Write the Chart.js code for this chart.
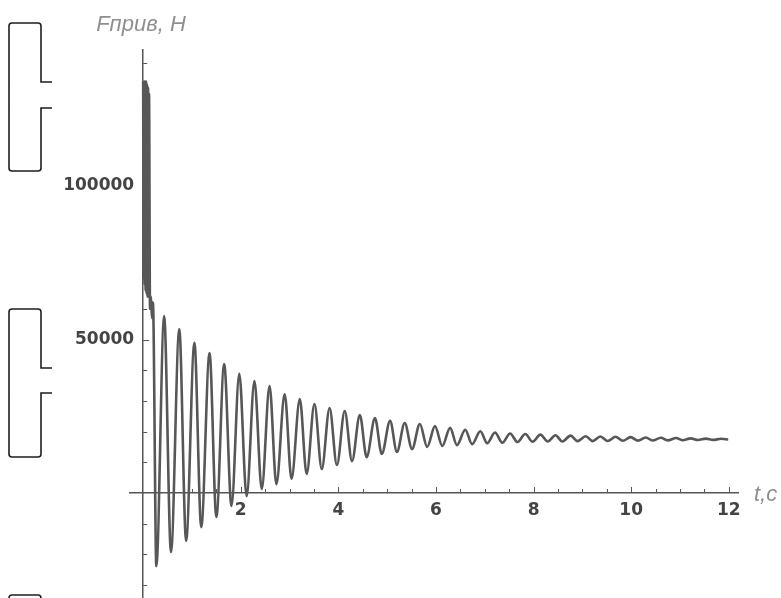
<!DOCTYPE html>
<html><head><meta charset="utf-8">
<script src="https://cdn.jsdelivr.net/npm/chart.js@4"></script>
<style>html,body{margin:0;padding:0;background:#fff}#wrap{position:relative;width:781px;height:598px}</style>
</head><body><div id="wrap"><canvas id="c" width="781" height="598"></canvas></div>
<script>
// time, s (extrema)
const tValues = [
  0, 0.01, 0.02, 0.03, 0.04, 0.05, 0.06, 0.07, 0.08, 0.09, 0.10, 0.11, 0.12, 0.14, 0.16, 0.18, 0.20,
  0.27, 0.43, 0.57, 0.74, 0.88, 1.05, 1.19, 1.36, 1.50, 1.66, 1.81, 1.97, 2.12, 2.28, 2.43, 2.59,
  2.73, 2.90, 3.04, 3.21, 3.35, 3.51, 3.66, 3.82, 3.97, 4.13, 4.28, 4.44, 4.58, 4.75, 4.89, 5.06,
  5.20, 5.36, 5.51, 5.67, 5.82, 5.98, 6.13, 6.29, 6.43, 6.60, 6.74, 6.91, 7.05, 7.21, 7.36, 7.52,
  7.67, 7.83, 7.98, 8.14, 8.29, 8.45, 8.59, 8.76, 8.90, 9.07, 9.21, 9.37, 9.52, 9.68, 9.83, 9.99,
  10.14, 10.30, 10.44, 10.61, 10.75, 10.92, 11.06, 11.22, 11.37, 11.53, 11.68, 11.84, 11.99
];
// force, N
const forceValues = [
  134000, 70000, 134000, 68000, 134000, 66000, 134000, 65000, 133000, 64000, 132000, 64000, 130000, 60000, 64000, 57000, 62000,
  -23800, 57600, -19200, 53400, -15600, 48900, -11100, 45600, -7800, 42000, -4200, 38800, -1000, 36500, 1300, 34800,
  2900, 32200, 4600, 30600, 6200, 29000, 7800, 27700, 9100, 26700, 10400, 25400, 11700, 24400, 12700, 23500,
  13400, 22800, 14300, 22500, 15000, 21800, 15300, 21200, 15600, 20600, 15900, 20100, 16200, 19700, 16400, 19400,
  16600, 19200, 16700, 19000, 16800, 18800, 16800, 18700, 16900, 18500, 16900, 18400, 16950, 18300, 17000, 18200,
  17050, 18100, 17100, 18000, 17150, 17900, 17200, 17800, 17250, 17700, 17300, 17650, 17450
];
const xTickLabels = [2, 4, 6, 8, 10, 12];
const xMinorTicks = [0.5, 1, 1.5, 2, 2.5, 3, 3.5, 4, 4.5, 5, 5.5, 6, 6.5, 7, 7.5, 8, 8.5, 9, 9.5, 10, 10.5, 11, 11.5, 12];
const yTickLabels = [50000, 100000];
const yMinorTicks = [-30000, -20000, -10000, 10000, 20000, 30000, 40000, 50000, 60000, 70000, 80000, 90000, 100000, 110000, 120000, 130000, 140000];
const yTitle = 'Fприв, Н';
const xTitle = 't,c';

const tickFont = 'bold 17px "DejaVu Sans", sans-serif';

const decor = {
  id: 'decor',
  afterDraw(chart) {
    const {ctx, scales: {x, y}} = chart;
    const x0 = x.getPixelForValue(0), y0 = y.getPixelForValue(0);
    ctx.save();
    ctx.strokeStyle = '#555';
    ctx.lineWidth = 1;
    ctx.beginPath();
    xMinorTicks.forEach(v => {
      const px = Math.round(x.getPixelForValue(v)) + 0.5;
      const len = xTickLabels.includes(v) ? 6 : 4;
      ctx.moveTo(px, y0); ctx.lineTo(px, y0 - len);
    });
    yMinorTicks.forEach(v => {
      const py = Math.round(y.getPixelForValue(v)) + 0.5;
      const len = yTickLabels.includes(v) ? 6 : 4;
      ctx.moveTo(x0, py); ctx.lineTo(x0 + len, py);
    });
    ctx.stroke();
    // y tick labels, placed through the y scale
    ctx.fillStyle = '#444';
    ctx.font = tickFont;
    ctx.textAlign = 'right';
    ctx.textBaseline = 'middle';
    yTickLabels.forEach(v => ctx.fillText(String(v), x0 - 9, y.getPixelForValue(v)));
    // axis titles
    ctx.fillStyle = '#8f8f8f';
    ctx.font = 'italic 22px "Liberation Sans", Arial, sans-serif';
    ctx.textBaseline = 'alphabetic';
    ctx.textAlign = 'left';
    ctx.fillText(yTitle, x0 - 47, 31);
    ctx.fillText(xTitle, x.right + 16, y0 + 8);
    // bracket marks at the left edge
    ctx.strokeStyle = '#1e1e1e';
    ctx.lineWidth = 1.6;
    const bracket = (top, s1, s2, bot) => {
      const L = 9, R = 41, S = 52, r = 3;
      ctx.beginPath();
      ctx.moveTo(S, s1); ctx.lineTo(R, s1);
      ctx.arcTo(R, top, L, top, r);
      ctx.arcTo(L, top, L, bot, r);
      ctx.arcTo(L, bot, R, bot, r);
      ctx.arcTo(R, bot, R, s2, r);
      ctx.lineTo(R, s2); ctx.lineTo(S, s2);
      ctx.stroke();
    };
    bracket(23, 82, 108, 171);
    bracket(309, 368, 393, 457);
    ctx.beginPath();
    ctx.moveTo(9, 605); ctx.lineTo(9, 598); ctx.arcTo(9, 595, 41, 595, 3); ctx.arcTo(41, 595, 41, 605, 3); ctx.lineTo(41, 605);
    ctx.stroke();
    ctx.restore();
  }
};

new Chart(document.getElementById('c'), {
  type: 'line',
  data: {
    datasets: [{
      data: tValues.map((t, i) => ({x: t, y: forceValues[i]})),
      borderColor: '#575757',
      borderWidth: 2.6,
      pointRadius: 0,
      cubicInterpolationMode: 'monotone',
      fill: false
    }]
  },
  options: {
    responsive: false,
    animation: false,
    devicePixelRatio: 1,
    layout: {padding: {left: 130, right: 43, top: 50, bottom: -20}},
    plugins: {legend: {display: false}, tooltip: {enabled: false}},
    scales: {
      x: {
        type: 'linear',
        min: -0.27, max: 12.19,
        position: {y: 0},
        grid: {display: false, drawTicks: false},
        border: {display: true, color: '#555', width: 1.5},
        afterBuildTicks: s => { s.ticks = xTickLabels.map(v => ({value: v})); },
        ticks: {
          color: '#444', padding: 7,
          font: {family: '"DejaVu Sans", sans-serif', size: 17, weight: 'bold'},
          maxRotation: 0, autoSkip: false,
          callback: v => String(v)
        }
      },
      y: {
        type: 'linear',
        min: -34200, max: 144300,
        position: {x: 0},
        grid: {display: false, drawTicks: false},
        border: {display: true, color: '#555', width: 1.5},
        afterBuildTicks: s => { s.ticks = yTickLabels.map(v => ({value: v})); },
        ticks: {display: false}
      }
    }
  },
  plugins: [decor]
});
</script></body></html>
